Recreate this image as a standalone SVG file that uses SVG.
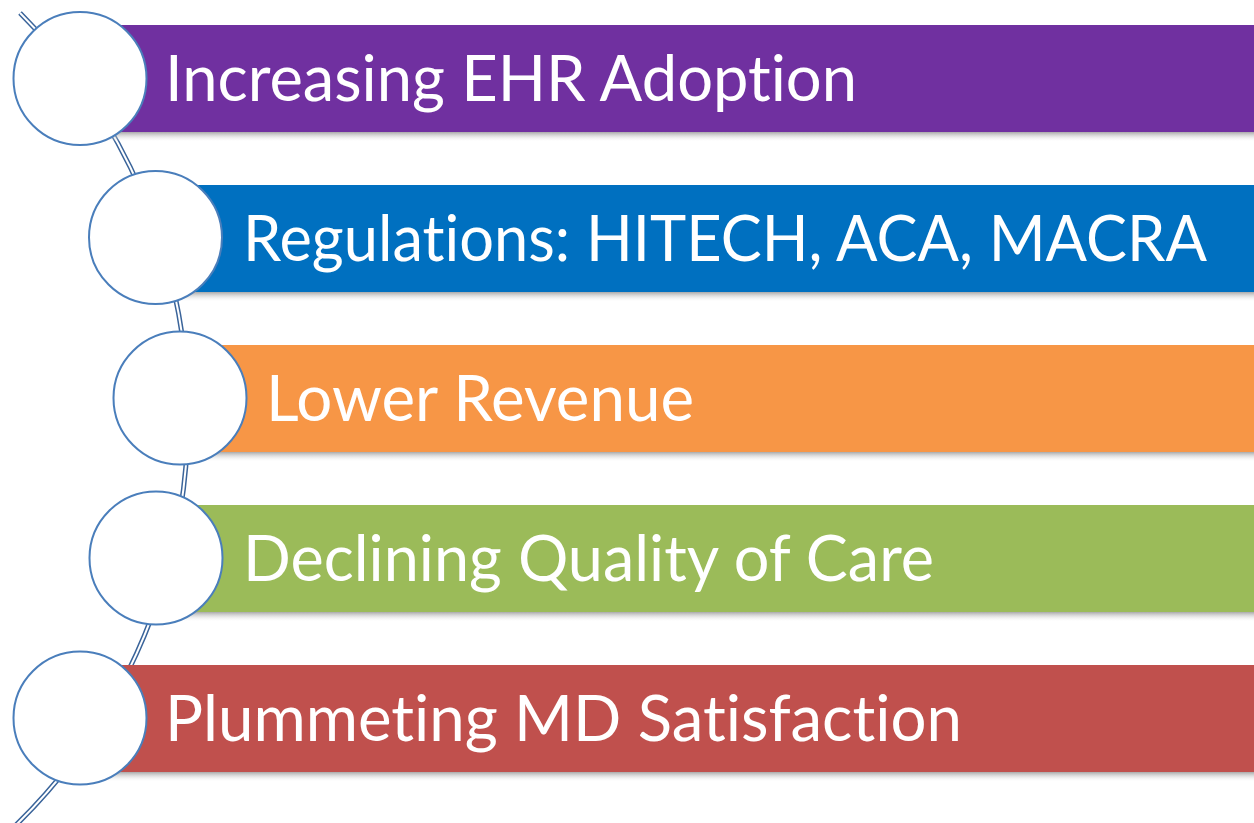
<svg xmlns="http://www.w3.org/2000/svg" width="1254" height="823" viewBox="0 0 1254 823">
<defs>
<linearGradient id="sh" x1="0" y1="0" x2="0" y2="1">
<stop offset="0" stop-color="#8c8c8c" stop-opacity="0.75"/>
<stop offset="1" stop-color="#ffffff" stop-opacity="0"/>
</linearGradient>
</defs>
<style>
.lbl{font-family:Lato,"Open Sans","Liberation Sans",sans-serif;font-size:63px;fill:#ffffff;font-variant-ligatures:none;font-feature-settings:"liga" 0,"dlig" 0}
.node circle{fill:#ffffff;stroke:#4a7ebb;stroke-width:2}
.shadow{fill:url(#sh)}
</style>
<rect width="1254" height="823" fill="#ffffff"/>
<g id="connectors">
<path d="M 20 13 A 570 570 0 0 1 10.8 830" fill="none" stroke="#3a649a" stroke-width="5"/>
<path d="M 20 13 A 570 570 0 0 1 10.8 830" fill="none" stroke="#ffffff" stroke-width="2"/>
</g>
<g id="node1" class="node">
<rect class="shadow" x="80" y="132" width="1174" height="10"/>
<rect x="80" y="25" width="1174" height="107" fill="#7030a0"/>
<circle cx="80" cy="78.5" r="66.5"/>
<text class="lbl" x="165" y="100.5" textLength="692" lengthAdjust="spacingAndGlyphs">Increasing EHR Adoption</text>
</g>
<g id="node2" class="node">
<rect class="shadow" x="155" y="292" width="1099" height="10"/>
<rect x="155" y="185" width="1099" height="107" fill="#0070c0"/>
<circle cx="155.5" cy="237.5" r="66.5"/>
<text class="lbl" x="243" y="260.5" textLength="964" lengthAdjust="spacingAndGlyphs">Regulations: HITECH, ACA, MACRA</text>
</g>
<g id="node3" class="node">
<rect class="shadow" x="180" y="452" width="1074" height="10"/>
<rect x="180" y="345" width="1074" height="107" fill="#f79646"/>
<circle cx="180" cy="398" r="66.5"/>
<text class="lbl" x="266" y="420.5" textLength="428" lengthAdjust="spacingAndGlyphs">Lower Revenue</text>
</g>
<g id="node4" class="node">
<rect class="shadow" x="156" y="612" width="1098" height="10"/>
<rect x="156" y="505" width="1098" height="107" fill="#9bbb59"/>
<circle cx="156" cy="558" r="66.5"/>
<text class="lbl" x="243" y="580.5" textLength="691" lengthAdjust="spacingAndGlyphs">Declining Quality of Care</text>
</g>
<g id="node5" class="node">
<rect class="shadow" x="80" y="772" width="1174" height="10"/>
<rect x="80" y="665" width="1174" height="107" fill="#c0504d"/>
<circle cx="80" cy="718" r="66.5"/>
<text class="lbl" x="165" y="740.5" textLength="797" lengthAdjust="spacingAndGlyphs">Plummeting MD Satisfaction</text>
</g>
</svg>
